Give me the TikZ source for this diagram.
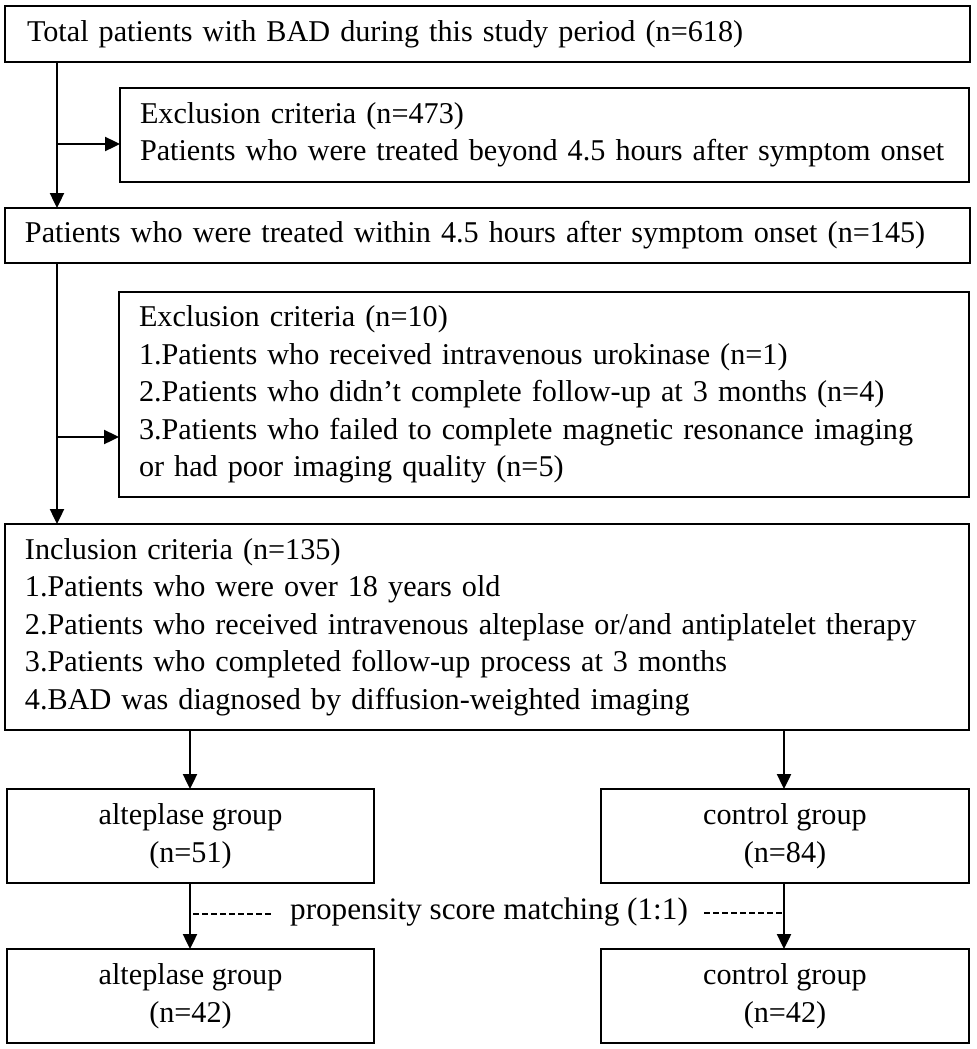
\documentclass[tikz,border=0pt]{standalone}
\usepackage{fontspec}
\setmainfont{Liberation Serif}
\usetikzlibrary{arrows.meta}
\tikzset{
  box/.style={draw, line width=1.2pt, rectangle, anchor=north west, inner ysep=0pt, outer sep=0pt,
    font=\fontsize{15.1}{18.75}\selectfont},
  lbox/.style={box, align=left, inner xsep=10pt},
  gbox/.style={box, align=center, minimum width=183.5pt, minimum height=47pt, inner xsep=0pt},
  arr/.style={line width=1.2pt, -{Triangle[length=7.5pt,width=7pt]}},
  dline/.style={line width=0.8pt, dash pattern=on 3pt off 1.5pt},
}
\begin{document}
\begin{tikzpicture}[x=0.5pt,y=-0.5pt]
\useasboundingbox (0,0) rectangle (976,1049);
% boxes
\node[lbox, inner xsep=11pt, text width=460.5pt, minimum height=28pt] (b1) at (5,6)
  {Total patients with BAD during this study period (n=618)};
\node[lbox, text width=404.5pt, minimum height=47pt] (b2) at (120,88)
  {Exclusion criteria (n=473)\\Patients who were treated beyond 4.5 hours after symptom onset};
\node[lbox, text width=462.5pt, minimum height=27.5pt] (b3) at (5,208)
  {Patients who were treated within 4.5 hours after symptom onset (n=145)};
\node[lbox, text width=405pt, minimum height=102.5pt] (b4) at (119,292)
  {Exclusion criteria (n=10)\\1.Patients who received intravenous urokinase (n=1)\\2.Patients who didn’t complete follow-up at 3 months (n=4)\\3.Patients who failed to complete magnetic resonance imaging\\or had poor imaging quality (n=5)};
\node[lbox, text width=462pt, minimum height=103pt] (b5) at (5,524)
  {Inclusion criteria (n=135)\\1.Patients who were over 18 years old\\2.Patients who received intravenous alteplase or/and antiplatelet therapy\\3.Patients who completed follow-up process at 3 months\\4.BAD was diagnosed by diffusion-weighted imaging};
\node[gbox] (a1) at (7,789) {alteplase group\\(n=51)};
\node[gbox, minimum width=184pt] (c1) at (601,789) {control group\\(n=84)};
\node[gbox] (a2) at (7,949) {alteplase group\\(n=42)};
\node[gbox, minimum width=184pt] (c2) at (601,949) {control group\\(n=42)};
\node[font=\fontsize{15.6}{18.75}\selectfont, inner xsep=8pt, inner ysep=0pt] (psm) at (489,912)
  {propensity score matching (1:1)};
% helper coordinates
\coordinate (t1) at (57,0);
\coordinate (y1) at (0,144);
\coordinate (y2) at (0,437);
\coordinate (la) at (190,0);
\coordinate (rc) at (784,0);
\coordinate (dl) at (193,914);
\coordinate (dr) at (783,913);
% connectors
\draw[arr] (b1.south -| t1) -- (b3.north -| t1);
\draw[arr] (t1 |- y1) -- (b2.west |- y1);
\draw[arr] (b3.south -| t1) -- (b5.north -| t1);
\draw[arr] (t1 |- y2) -- (b4.west |- y2);
\draw[arr] (b5.south -| la) -- (a1.north -| la);
\draw[arr] (b5.south -| rc) -- (c1.north -| rc);
\draw[arr] (a1.south -| la) -- (a2.north -| la);
\draw[arr] (c1.south -| rc) -- (c2.north -| rc);
\draw[dline] (dl) -- (dl -| psm.west);
\draw[dline] (dr -| psm.east) -- (dr);
\end{tikzpicture}
\end{document}
